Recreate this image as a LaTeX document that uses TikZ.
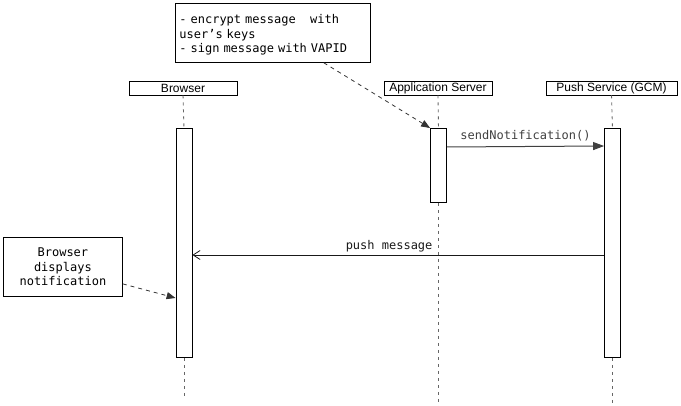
\documentclass[tikz,border=0pt]{standalone}
\usepackage{fontspec}
\setmainfont{Liberation Sans}
\newfontfamily\monofont[WordSpace={1,0,0}]{DejaVu Sans Mono}
\usetikzlibrary{arrows.meta, positioning}

\tikzset{
  actorbox/.style={draw, line width=0.8pt, minimum width=108pt, minimum height=14pt,
                   inner sep=0pt, font=\fontsize{12}{13}\selectfont},
  actbar/.style={draw, line width=0.8pt, fill=white, minimum width=16pt, inner sep=0pt},
  lifeline/.style={draw=black!60, line width=0.9pt, dash pattern=on 3pt off 4pt},
  notebox/.style={draw, line width=0.8pt, inner sep=4pt,
                  font=\monofont\fontsize{12}{14.5}\selectfont},
  notelink/.style={black!80, line width=0.8pt, dash pattern=on 4pt off 4pt,
                   -{Triangle[length=9pt, width=7pt]}},
  callmsg/.style={black!75, line width=1pt, -{Triangle[length=11pt, width=8pt]}},
  replymsg/.style={black!90, line width=0.8pt, -{Straight Barb[length=7pt, width=9pt]}},
  msglabel/.style={font=\monofont\fontsize{12}{13}\selectfont, inner sep=1pt}
}

\begin{document}
\begin{tikzpicture}[x=1pt, y=-1pt]
  \useasboundingbox (0,0) rectangle (681,406);

  % participants
  \node[actorbox] (browser) at (183,88) {Browser};
  \node[actorbox] (appsrv) at (438,88) {Application Server};
  \node[actorbox, minimum width=131pt] (push) at (611.5,88) {Push Service (GCM)};

  % activations
  \node[actbar, minimum height=229pt, anchor=north] (actB) at (184,128) {};
  \node[actbar, minimum height=74pt, anchor=north] (actA) at (438.5,128) {};
  \node[actbar, minimum height=229pt, anchor=north] (actP) at (612.5,128) {};

  % lifelines
  \coordinate (endB) at (184,396);
  \coordinate (endA) at (438.5,406);
  \coordinate (endP) at (612.5,404);
  \draw[lifeline] (browser.south) -- (actB.north);
  \draw[lifeline] (actB.south) -- (endB);
  \draw[lifeline] (appsrv.south) -- (actA.north);
  \draw[lifeline] (actA.south) -- (endA);
  \draw[lifeline] (push.south) -- (actP.north);
  \draw[lifeline] (actP.south) -- (endP);

  % notes
  \node[notebox, align=left, text width=187pt, minimum height=59pt,
        anchor=north west] (encnote) at (175,3)
        {\rule{0pt}{13pt}- encrypt message\hphantom{xx}with\\user’s keys\\- sign message with VAPID};
  \node[notebox, align=center, minimum width=119pt, minimum height=59pt,
        anchor=north west] (dispnote) at (3,237)
        {Browser\\displays\\notification};
  \draw[notelink] (encnote.south east) ++(-47,0) coordinate (encfoot) -- (actA.north west);
  \draw[notelink] (dispnote.east) ++(0,17) -- ([yshift=-170pt]actB.north west);

  % messages
  \draw[callmsg] ([yshift=-19pt]actA.north east) -- node[msglabel, above=4pt] {sendNotification()}
        ([yshift=-18pt]actP.north west);
  \draw[replymsg] ([yshift=-127pt]actP.north west) -- ([yshift=-127pt]actB.north east)
        node[msglabel, above=2pt, pos=0.0, xshift=-215pt] {push message};
\end{tikzpicture}
\end{document}
